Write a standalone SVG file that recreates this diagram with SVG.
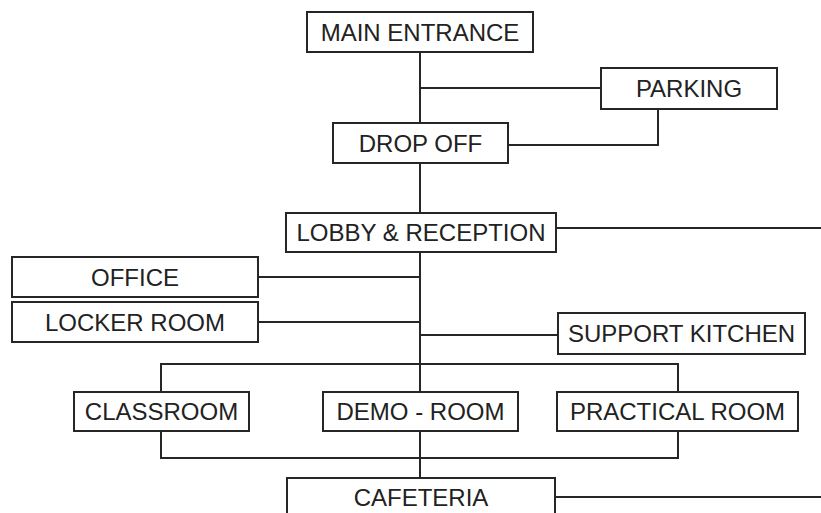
<svg xmlns="http://www.w3.org/2000/svg" width="821" height="513" viewBox="0 0 821 513">
  <style>
    .box { fill: #ffffff; stroke: #262626; stroke-width: 2; }
    .lbl { font-family: "Liberation Sans", Arial, sans-serif; font-size: 24px; fill: #222222; text-anchor: middle; }
    .wire { fill: none; stroke: #262626; stroke-width: 2; }
  </style>
  <rect width="821" height="513" fill="#ffffff"/>

  <!-- circulation links between spaces -->
  <g id="connectors" class="wire">
    <path d="M420 52 V123"/>
    <path d="M420 88 H601"/>
    <path d="M508 145 H658 V109"/>
    <path d="M420 163 V213"/>
    <path d="M556 228 H821"/>
    <path d="M420 252 V392"/>
    <path d="M258 277 H420"/>
    <path d="M258 322 H420"/>
    <path d="M420 335 H558"/>
    <path d="M161 392 V364 H678 V392"/>
    <path d="M161 431 V458 H678 V431"/>
    <path d="M420 431 V478"/>
    <path d="M555 497 H821"/>
  </g>

  <g id="main-entrance">
    <rect class="box" x="307" y="12" width="226" height="40"/>
    <text class="lbl" x="420" y="40.5">MAIN ENTRANCE</text>
  </g>
  <g id="parking">
    <rect class="box" x="601" y="68" width="176" height="41"/>
    <text class="lbl" x="689" y="97">PARKING</text>
  </g>
  <g id="drop-off">
    <rect class="box" x="333" y="123" width="175" height="40"/>
    <text class="lbl" x="420.5" y="151.5">DROP OFF</text>
  </g>
  <g id="lobby">
    <rect class="box" x="286" y="213" width="270" height="39"/>
    <text class="lbl" x="421" y="241">LOBBY &amp; RECEPTION</text>
  </g>
  <g id="office">
    <rect class="box" x="12" y="257" width="246" height="40"/>
    <text class="lbl" x="135" y="285.5">OFFICE</text>
  </g>
  <g id="locker-room">
    <rect class="box" x="12" y="302" width="246" height="40"/>
    <text class="lbl" x="135" y="330.5">LOCKER ROOM</text>
  </g>
  <g id="support-kitchen">
    <rect class="box" x="558" y="313" width="247" height="41"/>
    <text class="lbl" x="681.5" y="342">SUPPORT KITCHEN</text>
  </g>
  <g id="classroom">
    <rect class="box" x="74" y="392" width="175" height="39"/>
    <text class="lbl" x="161.5" y="420">CLASSROOM</text>
  </g>
  <g id="demo-room">
    <rect class="box" x="323" y="392" width="195" height="39"/>
    <text class="lbl" x="420.5" y="420">DEMO - ROOM</text>
  </g>
  <g id="practical-room">
    <rect class="box" x="557" y="392" width="241" height="39"/>
    <text class="lbl" x="677.5" y="420">PRACTICAL ROOM</text>
  </g>
  <g id="cafeteria">
    <rect class="box" x="287" y="478" width="268" height="50"/>
    <text class="lbl" x="421" y="506">CAFETERIA</text>
  </g>
</svg>
